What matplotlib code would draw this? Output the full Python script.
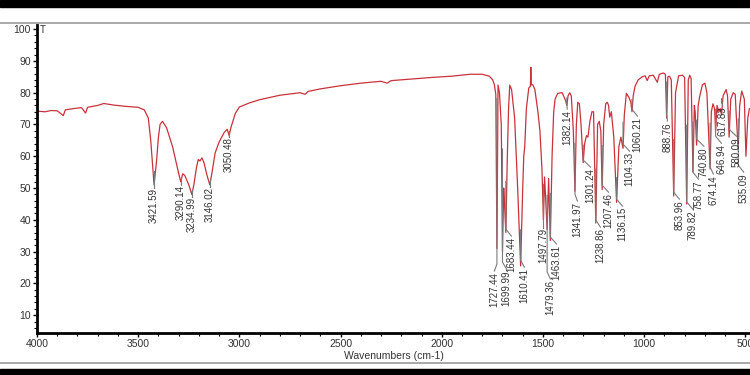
import numpy as np
import matplotlib.pyplot as plt
from matplotlib.lines import Line2D
from matplotlib.patches import Rectangle
from matplotlib.ticker import MultipleLocator

plt.rcParams['font.family'] = ['Liberation Sans', 'DejaVu Sans']

# spectrum: wavenumber (cm-1) and transmittance
spec_wn = [4000, 3960, 3930, 3900, 3870, 3860, 3820, 3780, 3760, 3750, 3700, 3670, 3620, 3560,
           3500, 3470, 3450, 3438, 3421.6, 3410, 3400, 3392, 3380, 3360, 3330, 3305, 3290.1,
           3280, 3270, 3250, 3235, 3225, 3212, 3203, 3195, 3185, 3175, 3160, 3146, 3135, 3120,
           3100, 3075, 3060, 3050.5, 3042, 3020, 3000, 2950, 2900, 2800, 2700, 2675, 2660, 2600,
           2500, 2400, 2300, 2270, 2250, 2150, 2050, 1950, 1860, 1800, 1765, 1748, 1740, 1733,
           1727.4, 1722, 1715, 1706, 1700, 1694, 1690, 1683.4, 1676, 1670, 1664, 1655, 1640,
           1625, 1610.4, 1600, 1595, 1590, 1582, 1570, 1562, 1560, 1558, 1550, 1540, 1525,
           1515, 1505, 1497.8, 1492, 1479.4, 1472, 1463.6, 1455, 1447, 1440, 1427, 1405, 1395,
           1388, 1382.1, 1376, 1368, 1360, 1350, 1342, 1335, 1328, 1320, 1312, 1301.2, 1294,
           1285, 1278, 1268, 1258, 1250, 1238.9, 1230, 1222, 1214, 1207.5, 1200, 1190, 1182,
           1176, 1170, 1162, 1150, 1136.2, 1125, 1115, 1104.3, 1098, 1088, 1075, 1066, 1060.2,
           1054, 1045, 1030, 1010, 995, 985, 975, 955, 935, 925, 905, 895, 888.8, 883, 875, 866,
           854, 845, 830, 811, 800, 789.8, 782, 775, 768, 758.8, 752, 748, 740.8, 733, 725, 712,
           700, 690, 674.1, 668, 660, 652, 646.9, 640, 630, 624, 617.8, 610, 595, 588, 580.1,
           572, 560, 550, 545, 535.1, 528, 518, 505, 497, 488, 480]
spec_t = [74.2, 74.0, 74.4, 74.3, 72.8, 74.6, 75.0, 75.3, 73.6, 75.4, 76.0, 76.6, 76.1, 75.7,
          75.4, 74.6, 72, 65, 51, 58, 66, 70, 71, 69, 63, 56, 52,
          54.5, 54, 51, 48, 51, 56.5, 59, 58.5, 59.5, 58, 54, 51, 55, 61,
          64.5, 67.5, 68.5, 66.5, 69, 73.5, 75.5, 76.8, 77.8, 79.2, 80, 79.5, 80.4, 81.2,
          82.2, 83, 83.6, 83.0, 83.8, 84.3, 84.8, 85.2, 85.8, 85.8, 85.2, 84, 82.5, 79.5,
          31, 82.4, 80, 70, 30, 50, 45, 36, 60, 75, 82.4, 81, 72,
          50, 25.5, 50, 60, 63, 75, 81.5, 82, 88, 82.5, 82.5, 81, 74,
          68, 56, 40, 53.5, 37, 53, 33.5, 60, 74, 78, 79.8, 80, 78.5,
          77.5, 76, 79, 80, 79, 68, 49, 70, 77, 76.5, 70, 58, 64,
          66.5, 66, 71, 74, 74, 39, 70, 71, 68, 49.5, 70, 76.5, 77,
          76, 72.3, 74, 66, 45.5, 63, 66, 62.5, 73, 79.8, 78.5, 77, 74,
          79, 82, 84, 85, 85.3, 83.8, 85.3, 85.5, 83.3, 85.8, 86.2, 85.8, 72, 85, 85.2, 84,
          47.5, 80, 85.3, 85.5, 84.8, 45, 84, 85.5, 84.5, 55, 76, 74, 63.5, 76, 79, 82.5,
          83, 80, 56, 74, 76.5, 75, 68, 76, 74, 75, 73, 79, 81, 79, 66,
          78, 80, 79.5, 73, 62, 76, 80.5, 78, 60, 72, 75]

# peak labels
peak_wn = [3421.59, 3290.14, 3234.99, 3146.02, 3050.48, 1727.44, 1699.99, 1683.44, 1610.41,
           1497.79, 1479.36, 1463.61, 1382.14, 1341.97, 1301.24, 1238.86, 1207.46, 1136.15,
           1104.33, 1060.21, 888.76, 853.96, 789.82, 758.77, 740.80, 674.14, 646.94, 617.83,
           580.09, 535.09]
# label placement (layout): centre wavenumber and top of text in %T
label_x = [3421.59, 3290.14, 3234.99, 3146.02, 3050.48, 1740, 1680, 1656, 1592,
           1497.79, 1463, 1433, 1380, 1330, 1265, 1216, 1176, 1107,
           1072, 1033, 885, 826, 760, 732, 705, 658, 618, 612,
           544, 508]
label_top = [50.0, 50.9, 47.2, 50.3, 66.0, 23.6, 24.2, 34.6, 24.8,
             37.4, 21.1, 32.1, 74.5, 45.6, 56.3, 37.4, 48.4, 44.0,
             61.3, 72.3, 70.8, 46.2, 43.1, 52.5, 62.9, 54.1, 63.8, 75.6,
             66.0, 54.7]

fig = plt.figure(figsize=(7.5, 3.75), dpi=100)
ax = fig.add_axes([37 / 750, 42 / 375, 713 / 750, 308 / 375])

ax.plot(spec_wn, spec_t, color='#c8323c', lw=0.9, zorder=2)

grid = np.linspace(480, 4000, 20000)
grid_t = np.interp(grid, spec_wn[::-1], spec_t[::-1])
for wn, lx, ly in zip(peak_wn, label_x, label_top):
    win = (grid > wn - 5) & (grid < wn + 5)
    top = grid_t[win].max()
    bend = ly + 2.5 if abs(lx - wn) > 1 else ly
    ax.plot([wn, wn, lx], [top, bend, ly + 0.3], color='#7a7a7a', lw=0.8, zorder=3)
    ax.text(lx, ly, f'{wn:.2f}', rotation=90, ha='center', va='top',
            fontsize=7, color='#333333', zorder=4)

ax.set_xlim(4000, 477)
ax.set_ylim(4.4, 101.3)
ax.xaxis.set_major_locator(MultipleLocator(500))
ax.xaxis.set_minor_locator(MultipleLocator(100))
ax.yaxis.set_major_locator(MultipleLocator(10))
ax.yaxis.set_minor_locator(MultipleLocator(2))
ax.set_yticks(range(10, 101, 10))
ax.tick_params(axis='both', which='major', labelsize=7.5, labelcolor='#333333',
               length=3, width=1, direction='out', pad=1.5)
ax.tick_params(axis='both', which='minor', length=2, width=0.8, direction='out')
for s in ['top', 'right']:
    ax.spines[s].set_visible(False)
for s in ['left', 'bottom']:
    ax.spines[s].set_linewidth(2)
ax.set_xlabel('Wavenumbers (cm-1)', fontsize=7.5, color='#333333', labelpad=1)
ax.text(3985, 99.8, 'T', fontsize=7, ha='left', va='center', color='#333333')

# screenshot frame
fig.add_artist(Rectangle((0, 1 - 7 / 375), 1, 7 / 375, transform=fig.transFigure,
                         color='black', zorder=10))
fig.add_artist(Rectangle((0, 0), 1, 6 / 375, transform=fig.transFigure,
                         color='black', zorder=10))
fig.add_artist(Line2D([0, 1], [1 - 23 / 375] * 2, transform=fig.transFigure,
                      color='#9a9a9a', lw=1.2))
fig.add_artist(Line2D([0, 1], [12 / 375] * 2, transform=fig.transFigure,
                      color='#9a9a9a', lw=1.2))

fig.savefig('out.png', dpi=100)
